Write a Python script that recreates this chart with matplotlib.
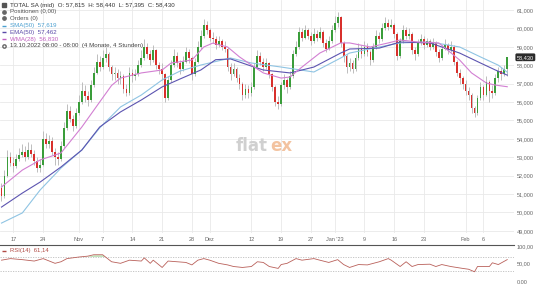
import matplotlib
matplotlib.use("Agg")
import matplotlib.pyplot as plt
from matplotlib.lines import Line2D
import numpy as np

plt.rcParams['font.family'] = ['Liberation Sans', 'DejaVu Sans']

# ---------------- data ----------------
first_open = 51.3
close = [50.9, 52.0, 53.0, 52.7, 52.5, 52.9, 53.1, 53.3, 53.0, 53.4,
         53.2, 52.8, 52.4, 52.6, 54.0, 53.7, 53.9, 53.3, 53.0, 52.9,
         53.6, 54.6, 55.5, 55.1, 54.7, 55.4, 56.0, 56.6, 56.3, 56.1,
         56.9, 57.6, 58.2, 57.9, 58.4, 58.6, 57.9, 57.5, 57.6, 57.3,
         57.4, 56.7, 56.5, 57.6, 57.4, 57.5, 58.0, 58.4, 59.0, 58.6,
         58.3, 58.8, 58.0, 57.8, 57.5, 56.2, 57.2, 58.0, 58.5, 58.1,
         57.8, 58.2, 58.7, 58.4, 57.5, 58.2, 59.0, 59.6, 60.2, 59.9,
         59.5, 59.4, 59.1, 59.3, 59.0, 58.9, 57.9, 57.5, 57.8, 57.3,
         57.0, 56.4, 56.7, 56.5, 56.8, 57.9, 58.5, 58.2, 57.9, 58.1,
         57.5, 56.8, 56.0, 55.9, 56.9, 57.2, 56.8, 57.4, 58.6, 59.0,
         59.8, 59.5, 59.9, 59.6, 59.3, 59.7, 59.5, 59.8, 59.2, 58.9,
         59.3, 59.9, 60.3, 60.6, 59.2, 58.5, 57.9, 58.1, 57.8, 58.4,
         58.9, 58.6, 59.0, 58.7, 58.3, 59.0, 59.6, 59.4, 60.0, 60.3,
         60.1, 60.2, 59.7, 58.5, 59.3, 59.9, 59.6, 59.7, 58.8, 58.6,
         59.2, 59.4, 59.1, 59.3, 59.0, 59.2, 58.7, 58.4, 58.9, 59.1,
         58.8, 59.0, 58.2, 57.6, 57.3, 57.0, 56.6, 56.4, 55.7, 55.4,
         56.2, 56.8, 56.4, 57.1, 56.6, 56.5, 57.3, 57.7, 57.5, 57.8,
         58.43]
high = [51.6, 52.3, 53.4, 53.3, 53.0, 53.2, 53.5, 53.7, 53.6, 53.8,
        53.7, 53.4, 53.0, 52.9, 54.4, 54.3, 54.2, 54.1, 53.5, 53.3,
        53.9, 54.9, 55.9, 55.8, 55.3, 55.7, 56.4, 57.1, 56.9, 56.6,
        57.2, 57.9, 58.6, 58.5, 58.8, 59.0, 58.7, 58.0, 57.9, 57.8,
        57.7, 57.5, 57.0, 57.9, 57.8, 57.8, 58.3, 58.8, 59.4, 59.2,
        58.8, 59.1, 58.9, 58.2, 58.1, 57.6, 57.4, 58.3, 58.9, 58.7,
        58.3, 58.5, 59.0, 58.9, 58.5, 58.4, 59.3, 59.9, 60.5, 60.4,
        60.0, 59.8, 59.6, 59.6, 59.4, 59.3, 59.0, 58.1, 58.1, 57.9,
        57.5, 57.1, 57.0, 56.9, 57.1, 58.1, 58.8, 58.7, 58.4, 58.4,
        58.2, 57.6, 56.9, 56.3, 57.1, 57.5, 57.3, 57.7, 58.8, 59.3,
        60.1, 60.0, 60.2, 60.0, 59.8, 60.0, 59.9, 60.1, 59.9, 59.4,
        59.6, 60.2, 60.7, 60.9, 60.7, 59.3, 58.6, 58.4, 58.3, 58.6,
        59.2, 59.1, 59.3, 59.2, 58.8, 59.2, 59.9, 59.8, 60.3, 60.6,
        60.5, 60.5, 60.3, 59.8, 59.5, 60.2, 60.1, 60.0, 59.8, 59.0,
        59.4, 59.7, 59.6, 59.5, 59.4, 59.5, 59.3, 58.9, 59.1, 59.4,
        59.2, 59.3, 59.1, 58.3, 57.8, 57.4, 57.2, 56.8, 56.5, 55.8,
        56.4, 57.1, 56.9, 57.4, 57.2, 56.9, 57.5, 57.9, 57.9, 58.0,
        58.44]
low = [50.6, 50.8, 51.9, 52.5, 52.2, 52.4, 52.8, 53.0, 52.8, 52.9,
       53.0, 52.6, 52.2, 52.2, 52.5, 53.5, 53.5, 53.1, 52.6, 52.6,
       52.8, 53.5, 54.5, 54.9, 54.4, 54.6, 55.3, 55.9, 56.0, 55.8,
       56.0, 56.8, 57.5, 57.7, 57.8, 58.2, 57.7, 57.2, 57.2, 57.0,
       57.0, 56.5, 56.3, 56.4, 57.1, 57.2, 57.4, 57.9, 58.3, 58.4,
       58.0, 58.2, 57.8, 57.5, 57.2, 56.0, 56.1, 57.1, 57.9, 57.9,
       57.5, 57.7, 58.1, 58.1, 57.2, 57.4, 58.1, 58.9, 59.5, 59.7,
       59.3, 59.2, 58.9, 59.0, 58.8, 58.7, 57.7, 57.2, 57.4, 57.1,
       56.7, 56.1, 56.2, 56.2, 56.3, 56.7, 57.8, 58.0, 57.7, 57.8,
       57.3, 56.6, 55.8, 55.6, 55.8, 56.7, 56.5, 56.7, 57.3, 58.5,
       58.9, 59.3, 59.4, 59.4, 59.1, 59.2, 59.3, 59.4, 59.0, 58.7,
       58.8, 59.2, 59.8, 60.1, 59.0, 58.2, 57.6, 57.7, 57.6, 57.7,
       58.3, 58.4, 58.5, 58.5, 58.0, 58.2, 58.9, 59.2, 59.3, 59.9,
       59.9, 60.0, 59.5, 58.3, 58.4, 59.2, 59.4, 59.4, 58.6, 58.3,
       58.5, 59.1, 58.9, 59.0, 58.8, 58.9, 58.5, 58.2, 58.3, 58.8,
       58.6, 58.7, 58.0, 57.4, 57.0, 56.7, 56.4, 56.1, 55.4, 55.2,
       55.3, 56.1, 56.1, 56.3, 56.0, 56.2, 56.4, 57.1, 57.2, 57.4,
       57.395]

sma_idx = [0, 7, 13, 20, 27, 33, 40, 47, 54, 60, 67, 77, 84, 94, 105, 114,
           117, 127, 134, 144, 154, 161, 167, 170]
sma_val = [49.42, 49.97, 51.22, 52.41, 53.39, 54.59, 55.73, 56.38, 57.2, 57.68,
           58.01, 58.39, 58.12, 57.9, 57.63, 58.39, 58.66, 58.99, 59.21, 59.26,
           58.99, 58.45, 58.0, 57.62]
ema_idx = [0, 7, 13, 20, 27, 33, 40, 47, 54, 60, 67, 72, 77, 84, 88, 97, 105,
           114, 117, 127, 134, 144, 154, 161, 166, 170]
ema_val = [50.29, 51.05, 51.65, 52.47, 53.39, 54.64, 55.46, 56.11, 56.82, 57.25,
           57.74, 58.3, 58.34, 57.95, 57.74, 57.58, 57.9, 58.66, 58.88, 58.93,
           59.26, 59.21, 58.66, 58.12, 57.74, 57.46]
wma_idx = [0, 7, 13, 20, 27, 33, 37, 40, 47, 54, 57, 64, 68, 71, 76, 80, 85,
           88, 94, 97, 101, 107, 114, 117, 124, 130, 134, 140, 147, 154, 158,
           163, 166, 170]
wma_val = [51.38, 52.3, 52.85, 53.23, 54.64, 56.0, 56.9, 57.3, 57.58, 57.74,
           58.12, 58.28, 58.99, 59.2, 58.99, 58.45, 57.9, 57.58, 57.3, 57.36,
           57.9, 58.66, 59.21, 59.21, 58.99, 59.21, 59.37, 59.26, 59.21, 58.28,
           57.58, 57.03, 56.92, 56.83]

rsi_idx = [0, 3, 7, 11, 14, 18, 20, 22, 26, 29, 31, 34, 37, 40, 43, 47, 48, 50,
           51, 54, 56, 59, 62, 64, 66, 68, 70, 73, 76, 78, 81, 84, 86, 88, 90,
           93, 94, 96, 99, 101, 105, 107, 110, 113, 115, 117, 120, 123, 127,
           130, 131, 134, 136, 138, 140, 144, 146, 148, 151, 155, 157, 159,
           160, 164, 165, 167, 170]
rsi_val = [59.5, 64, 61, 57, 64, 50.5, 55, 64, 68.5, 71, 75, 75, 55, 50.5, 59.5,
           57, 66, 50.5, 59.5, 38.7, 57, 55, 53, 46, 59.5, 64, 59.5, 50.5, 46,
           41.4, 38.7, 41.4, 55, 53, 41.4, 36, 47, 50.5, 64, 59.5, 64, 59.5, 53,
           61, 47, 38.7, 47, 46, 55, 64, 59.5, 41.4, 55, 41.4, 47, 48, 41.4,
           47, 41.4, 36, 33.6, 26.4, 41.4, 41.4, 52, 47, 61.1]

tick_days = [2, 7, 13, 17, 22, 27, 32, 35, 42, 47, 52, 56, 61, 66, 71, 78, 81]
tick_labels = ["17", "24", "Nov", "7", "14", "21", "28", "Dez", "12", "19",
               "27", "Jan '23", "9", "16", "23", "Feb", "6"]
price_ticks = [49, 50, 51, 52, 53, 54, 55, 56, 57, 58, 59, 60, 61]

legend_lines = [
    ("TOTAL SA (mid)  O: 57,815  H: 58,440  L: 57,395  C: 58,430", "#333333"),
    ("Positionen (0,00)", "#555555"),
    ("Orders (0)", "#555555"),
    ("SMA(50)  57,619", "#4a9fd0"),
    ("EMA(50)  57,462", "#5a4aa8"),
    ("WMA(28)  56,830", "#c060c0"),
    ("13.10.2022 08:00 - 08:00  (4 Monate, 4 Stunden)", "#444444"),
]

# ---------------- figure ----------------
W, H = 540, 284
fig = plt.figure(figsize=(W / 100, H / 100), dpi=100)
fig.patch.set_facecolor("white")

def px(x, y):
    return x / W, 1 - y / H

right_px = 514
main_bottom = 233
ax = fig.add_axes([0, 1 - main_bottom / H, right_px / W, main_bottom / H])
k_scale, k_off = 2.975, 1.5
ax.set_xlim(-k_off / k_scale, (right_px - k_off) / k_scale)
pp = 18.4
ax.set_ylim(61 - (main_bottom - 10) / pp, 61 + 10 / pp)

n = len(close)
idx = np.arange(n)
opens = np.array([first_open] + close[:-1])
cl = np.array(close)
hi = np.array(high)
lo = np.array(low)
up = cl >= opens

ax.vlines(idx, lo, hi, color="#bdbdbd", lw=0.7, zorder=3)
bw = 0.6
ax.bar(idx[up], (cl - opens)[up], bottom=opens[up], width=bw,
       color="#3a9d3a", edgecolor="none", zorder=4)
ax.bar(idx[~up], (opens - cl)[~up], bottom=cl[~up], width=bw,
       color="#d8302c", edgecolor="none", zorder=4)

ax.plot(sma_idx, sma_val, color="#8fc4e3", lw=0.8, zorder=5)
ax.plot(ema_idx, ema_val, color="#5c54b0", lw=0.8, zorder=5)
ax.plot(wma_idx, wma_val, color="#d27fd2", lw=0.8, zorder=5)

ax.set_yticks(price_ticks)
ax.set_yticklabels([f"{v},000" for v in price_ticks])
ax.yaxis.tick_right()
ax.set_xticks([2 * d for d in tick_days])
ax.set_xticklabels(tick_labels)
ax.tick_params(axis="both", length=0, labelsize=4.0, colors="#666666")
ax.tick_params(axis="y", pad=1.8)
ax.tick_params(axis="x", pad=3)
ax.grid(True, color="#e9e9e9", lw=0.6, zorder=0)
for s in ax.spines.values():
    s.set_visible(False)

# last price box
ax.annotate("58,430", xy=(1.0, close[-1]), xycoords=("axes fraction", "data"),
            xytext=(2.0, 0), textcoords="offset points", va="center", ha="left",
            fontsize=4.0, color="white",
            bbox=dict(boxstyle="round,pad=0.25", fc="#2b2b2b", ec="none"),
            annotation_clip=False)

# watermark
fig.text(*px(236, 146), "flat", fontsize=12, color="#d0d0d0", fontweight="bold",
         va="center", ha="left", family="DejaVu Sans")
fig.text(*px(270, 146), "ex", fontsize=12, color="#f3c3a0", fontweight="bold",
         va="center", ha="left", family="DejaVu Sans")

# header legend
ys = [5, 11.7, 18.3, 25.5, 32.2, 39, 45.8]
icon_styles = [("s", "#555555"), ("o", "#666666"), ("o", "#666666"),
               ("_", "#4a9fd0"), ("_", "#5a4aa8"), ("_", "#c060c0"),
               ("o", "#666666")]
for i, ((txt, col), y, (mk, mc)) in enumerate(zip(legend_lines, ys, icon_styles)):
    fig.text(*px(9.5, y), txt, fontsize=4.4, color=col, va="center", ha="left")
    xf, yf = px(4, y)
    fig.add_artist(Line2D([xf], [yf], marker=mk, ms=2.4 if mk != "_" else 3,
                          mew=1.0, color=mc, mfc="white" if i == 6 else mc,
                          transform=fig.transFigure))

# separator line
xf0, yf0 = px(0, 245)
xf1, _ = px(right_px, 245)
fig.add_artist(Line2D([xf0, xf1], [yf0, yf0], color="#555555", lw=0.8,
                      transform=fig.transFigure))

# RSI panel
rax = fig.add_axes([0, 3 / H, right_px / W, 35 / H])
rax.set_xlim(ax.get_xlim())
rax.set_ylim(0, 100)
rax.plot(rsi_idx, rsi_val, color="#b9605a", lw=0.6, zorder=3)
rv = np.array(rsi_val, dtype=float)
rax.fill_between(rsi_idx, 70, rv, where=rv > 70, interpolate=True,
                 color="#a8d8a0", alpha=0.7, lw=0, zorder=2)
for lvl in (70, 30):
    rax.axhline(lvl, color="#bdbdbd", lw=0.6, ls=(0, (1.5, 1.5)), zorder=1)
rax.set_yticks([0, 50, 100])
rax.set_yticklabels(["0,00", "50,00", "100,00"])
rax.yaxis.tick_right()
rax.set_xticks([])
rax.tick_params(axis="y", length=0, labelsize=4.0, colors="#666666", pad=1.8)
for s in rax.spines.values():
    s.set_visible(False)
fig.text(*px(9.5, 250.5), "RSI(14)  61,14", fontsize=4.2, color="#b04a44",
         va="center", ha="left")
xf, yf = px(4, 250.5)
fig.add_artist(Line2D([xf], [yf], marker="_", ms=3, mew=1.0, color="#b04a44",
                      transform=fig.transFigure))

fig.savefig("out.png", dpi=100)
